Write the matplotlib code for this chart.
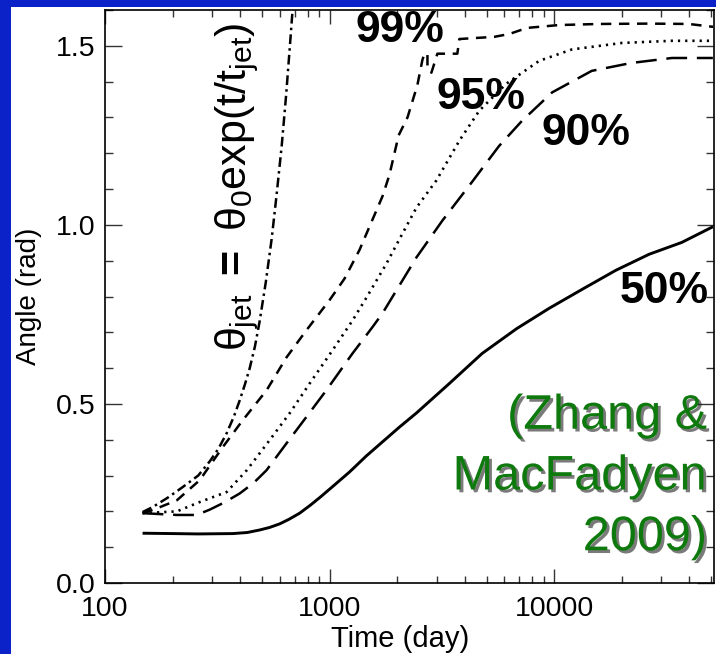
import numpy as np
import matplotlib
matplotlib.use('Agg')
import matplotlib.pyplot as plt
import matplotlib.patheffects as pe
from matplotlib.patches import Rectangle
from matplotlib.ticker import FixedLocator, LogLocator, MultipleLocator, NullFormatter

plt.rcParams['font.family'] = ['Liberation Sans', 'DejaVu Sans']
plt.rcParams['mathtext.fontset'] = 'custom'
plt.rcParams['mathtext.rm'] = 'Liberation Sans'
plt.rcParams['mathtext.it'] = 'Liberation Sans'
plt.rcParams['mathtext.bf'] = 'Liberation Sans:bold'
plt.rcParams['lines.scale_dashes'] = False

# opening angle vs time, fraction of energy enclosed
t_50 = [147, 200, 260, 371, 430, 488, 540, 599, 660, 736, 820, 910, 1035, 1227,
        1459, 2044, 2440, 3400, 4780, 6800, 9500, 13500, 18800, 26500, 37000, 51000]
ang_50 = [0.139, 0.138, 0.137, 0.138, 0.141, 0.148, 0.155, 0.165, 0.178, 0.195, 0.217,
          0.24, 0.27, 0.31, 0.355, 0.435, 0.475, 0.556, 0.641, 0.71, 0.767, 0.822,
          0.873, 0.918, 0.951, 0.995]

t_90 = [147, 209, 256, 293, 340, 398, 460, 524, 643, 787, 967, 1265, 1550, 1720,
        2436, 3180, 4310, 5680, 7180, 9800, 14700, 22000, 33450, 50900]
ang_90 = [0.195, 0.19, 0.19, 0.205, 0.225, 0.25, 0.28, 0.315, 0.39, 0.463, 0.538,
          0.641, 0.714, 0.753, 0.909, 1.012, 1.12, 1.22, 1.29, 1.37, 1.43, 1.452,
          1.466, 1.466]

t_95 = [147, 209, 264, 348, 428, 541, 664, 815, 1031, 1265, 1460, 1792, 2047,
        2436, 2989, 3783, 4642, 6118, 8577, 12020, 20060, 33450, 50900]
ang_95 = [0.195, 0.20, 0.226, 0.254, 0.315, 0.399, 0.474, 0.557, 0.65, 0.733, 0.797,
          0.892, 0.96, 1.048, 1.124, 1.235, 1.319, 1.394, 1.458, 1.49, 1.508, 1.514, 1.514]

t_99 = [147, 165, 209, 264, 334, 410, 524, 643, 787, 1000, 1166, 1359, 1721, 1848,
        2030, 2223, 2460, 2589, 2645, 2728, 2728, 2841, 3020, 3706, 3784, 5407,
        6310, 7580, 10500, 15900, 26400, 39800, 51000]
ang_99 = [0.195, 0.205, 0.231, 0.287, 0.379, 0.454, 0.538, 0.63, 0.705, 0.79, 0.85,
          0.93, 1.08, 1.14, 1.25, 1.30, 1.39, 1.46, 1.478, 1.478, 1.439, 1.425,
          1.478, 1.478, 1.519, 1.525, 1.533, 1.55, 1.558, 1.561, 1.562, 1.561, 1.553]

t_exp = [147, 163, 190, 222, 260, 293, 320, 348, 375, 398, 420, 441, 465, 488,
         520, 552, 580, 612, 640, 664, 690]
ang_exp = [0.198, 0.212, 0.238, 0.268, 0.30, 0.34, 0.375, 0.418, 0.465, 0.51, 0.555,
           0.60, 0.66, 0.73, 0.84, 0.96, 1.08, 1.22, 1.36, 1.49, 1.63]

xticks = [100, 1000, 10000]
xtick_labels = ['100', '1000', '10000']
yticks = [0.0, 0.5, 1.0, 1.5]

fig = plt.figure(figsize=(7.16, 6.54), dpi=100)
fig.patch.set_facecolor('#0a22c8')
fig.patches.append(Rectangle((11 / 716, 0), 1 - 11 / 716, 647 / 654,
                             transform=fig.transFigure, facecolor='white',
                             edgecolor='none', zorder=-10))

ax = fig.add_axes([105 / 716, 71 / 654, 609 / 716, 573 / 654])
ax.set_facecolor('white')

ax.plot(t_50, ang_50, color='black', lw=2.1, solid_capstyle='butt',
        solid_joinstyle='round')
ax.plot(t_90, ang_90, color='black', lw=1.8, dashes=(15, 7))
ax.plot(t_95, ang_95, color='black', lw=1.9, dashes=(1.6, 3.6))
ax.plot(t_99, ang_99, color='black', lw=1.8, dashes=(7.5, 5.5))
ax.plot(t_exp, ang_exp, color='black', lw=1.8, dashes=(7, 3, 1.8, 3))

ax.set_xscale('log')
ax.set_xlim(100, 51500)
ax.set_ylim(0, 1.6)

ax.xaxis.set_major_locator(FixedLocator(xticks))
ax.set_xticklabels(xtick_labels)
ax.xaxis.set_minor_locator(LogLocator(base=10, subs=np.arange(2, 10)))
ax.xaxis.set_minor_formatter(NullFormatter())
ax.set_yticks(yticks)
ax.set_yticklabels(['%.1f' % v for v in yticks])
ax.yaxis.set_minor_locator(MultipleLocator(0.1))

ax.tick_params(which='both', direction='in', top=True, right=True,
               labelsize=20.5, width=1, color='#333333')
ax.tick_params(axis='y', which='major', length=12, pad=7)
ax.tick_params(axis='y', which='minor', length=6)
ax.tick_params(axis='x', which='major', length=10, pad=9)
ax.tick_params(axis='x', which='minor', length=5)
for sp in ax.spines.values():
    sp.set_linewidth(1.2)

ax.set_xlabel('Time (day)', fontsize=21)
ax.xaxis.set_label_coords(0.484, -0.073)
ax.set_ylabel('Angle (rad)', fontsize=20)
ax.yaxis.set_label_coords(-0.103, 0.5)

lab = dict(transform=ax.transAxes, ha='center', va='center',
           fontsize=32, fontweight='bold')
ax.text(0.484, 0.965, '99%', **lab)
ax.text(0.617, 0.848, '95%', **lab)
ax.text(0.790, 0.785, '90%', **lab)
ax.text(0.918, 0.508, '50%', **lab)

ax.text(0.217, 0.691,
        r'$\theta_{\rm jet}$ $\mathbf{=}$ $\theta_{\rm 0}$exp(t/t$_{\rm jet}$)',
        transform=ax.transAxes, ha='center', va='center', rotation=90,
        fontsize=31)

ax.text(0.9885, 0.185, '(Zhang &\nMacFadyen\n2009)', transform=ax.transAxes,
        ha='right', va='center', multialignment='right', fontsize=35,
        color='#0e7a0e', linespacing=1.45,
        path_effects=[pe.SimplePatchShadow(offset=(2, -2), shadow_rgbFace='#222222',
                                           alpha=0.6),
                      pe.Normal()])

fig.savefig('out.png', dpi=100, facecolor=fig.get_facecolor())
